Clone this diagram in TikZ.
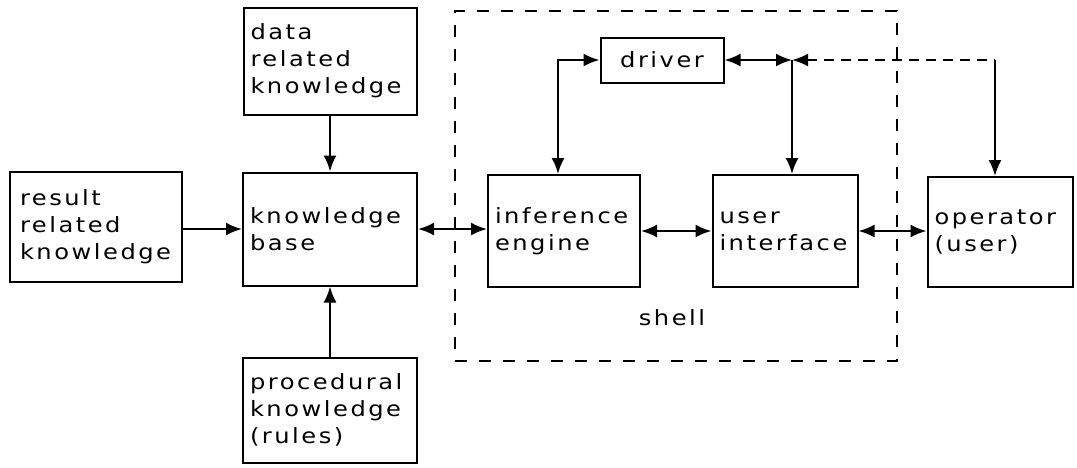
\documentclass[tikz,border=0pt]{standalone}
\usepackage{fontspec}
\setmainfont{DejaVu Sans}[FakeStretch=1.15,LetterSpace=12]
\usetikzlibrary{arrows.meta}
\tikzset{
  x=1pt, y=-1pt,
  box/.style={draw, line width=2pt, inner xsep=7pt, inner ysep=0pt, align=left, anchor=center,
    font=\fontsize{21}{27}\selectfont},
  shellbox/.style={draw, line width=2pt, dash pattern=on 12pt off 12pt, anchor=center, inner sep=0pt},
  lbl/.style={font=\fontsize{21}{27}\selectfont, inner sep=0pt},
  conn/.style={line width=2.2pt},
  arr/.style={conn, -{Latex[length=16pt,width=13pt]}},
  darr/.style={conn, {Latex[length=16pt,width=13pt]}-{Latex[length=16pt,width=13pt]}},
  larr/.style={conn, {Latex[length=16pt,width=13pt]}-},
}
\begin{document}
\begin{tikzpicture}
\useasboundingbox (0,0) rectangle (1077,467);
% shell container
\node[shellbox, minimum width=442pt, minimum height=350pt] (shell) at (676,186) {};
\node[lbl] (shelllbl) at (672,318) {shell};
% boxes
\node[box, inner xsep=10pt, text width=152pt, minimum height=110pt] (result) at (96,227) {result\\related\\knowledge};
\node[box, text width=159pt, minimum height=107pt] (data) at (330,61) {data\\related\\knowledge};
\node[box, text width=160pt, minimum height=113pt] (kb) at (330,229) {knowledge\\base};
\node[box, text width=160pt, minimum height=105pt] (proc) at (330,410) {procedural\\knowledge\\(rules)};
\node[box, align=center, text width=109pt, minimum height=45pt] (driver) at (662,60) {driver};
\node[box, text width=138pt, minimum height=112pt] (inf) at (564,231) {inference\\engine};
\node[box, text width=131pt, minimum height=112pt] (ui) at (785,231) {user\\interface};
\node[box, text width=131pt, minimum height=110pt] (op) at (1000,232) {operator\\(user)};
% junctions
\coordinate (jn) at (792,60);
\coordinate (opc) at (995,60);
\coordinate (drl) at (558,60);
% connectors
\draw[arr] (result.east |- kb.west) -- (kb.west);
\draw[arr] (data.south) -- (kb.north);
\draw[arr] (proc.north) -- (kb.south);
\draw[darr] (kb.east) -- (kb.east -| inf.west);
\draw[darr] (inf.east) -- (inf.east -| ui.west);
\draw[darr] (ui.east) -- (ui.east -| op.west);
\draw[darr] (drl |- inf.north) -- (drl) -- (driver.west);
\draw[darr] (driver.east) -- (jn);
\draw[arr] (jn) -- (jn |- ui.north);
\draw[larr, dash pattern=on 10pt off 7pt] (jn) -- (opc);
\draw[arr] (opc) -- (opc |- op.north);
\end{tikzpicture}
\end{document}
